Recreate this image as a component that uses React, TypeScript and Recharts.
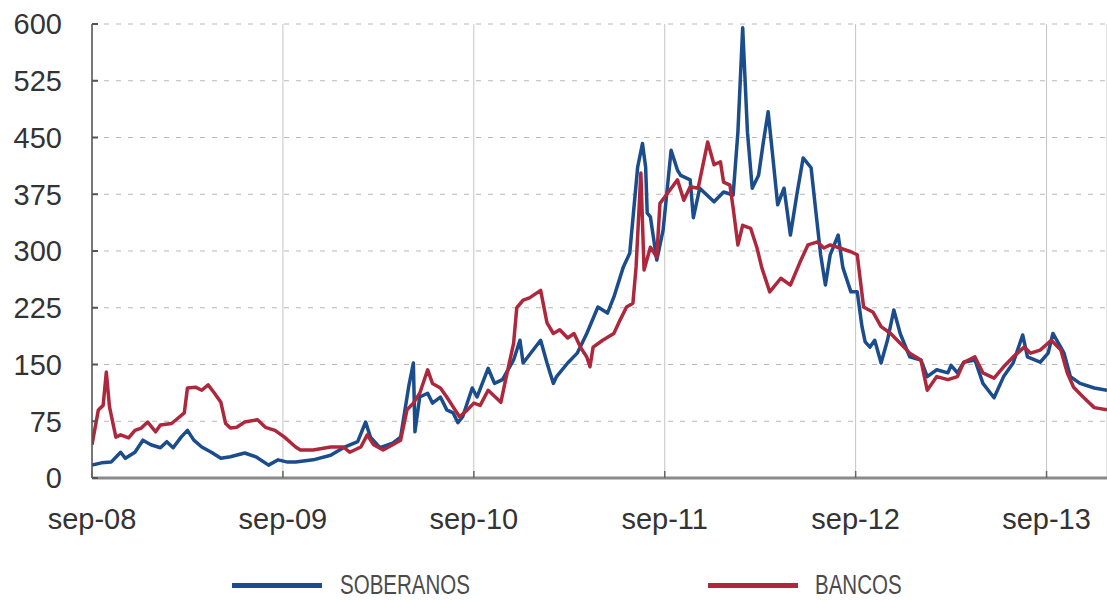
import { LineChart, Line, XAxis, YAxis, CartesianGrid } from "recharts";

// months counted from sep-08
const tickMonths = [0, 12, 24, 36, 48, 60];
const tickLabels = ["sep-08", "sep-09", "sep-10", "sep-11", "sep-12", "sep-13"];
const yTicks = [0, 75, 150, 225, 300, 375, 450, 525, 600];

const sovMonths = [
  0.0, 0.6, 1.2, 1.8, 2.1, 2.7, 3.2, 3.7, 4.3, 4.7, 5.1, 5.6, 6.0, 6.4, 6.9, 7.5, 8.1, 8.7, 9.6, 10.3,
  11.1, 11.7, 12.3, 12.8, 13.9, 15.0, 15.8, 16.7, 17.2, 17.5, 18.1, 18.9, 19.4, 19.9, 20.2, 20.3, 20.6,
  21.1, 21.4, 21.9, 22.3, 22.7, 23.0, 23.3, 23.9, 24.2, 24.9, 25.3, 25.8, 26.5, 26.9, 27.1, 28.2, 28.6,
  29.0, 29.2, 29.9, 30.5, 31.1, 31.8, 32.4, 32.8, 33.4, 33.8, 34.3, 34.6, 34.8, 34.9, 35.1, 35.5, 35.9,
  36.4, 36.8, 37.0, 37.6, 37.8, 38.2, 39.1, 39.7, 40.3, 40.6, 40.9, 41.2, 41.5, 41.9, 42.2, 42.5, 42.8,
  43.1, 43.5, 43.9, 44.3, 44.7, 45.2, 45.5, 45.8, 46.1, 46.4, 46.9, 47.2, 47.7, 48.1, 48.4, 48.6, 48.9,
  49.2, 49.6, 50.0, 50.4, 50.8, 51.4, 52.1, 52.5, 53.1, 53.8, 54.0, 54.4, 54.8, 55.5, 56.0, 56.7, 57.3,
  57.9, 58.5, 58.8, 59.6, 60.1, 60.4, 61.1, 61.5, 62.1, 63.0, 63.8,
];
const sovValues = [
  17, 20, 21, 34, 26, 34, 50, 44, 40, 48, 40, 54, 63, 50, 41, 34, 26, 28, 33, 28,
  17, 24, 21, 21, 24, 30, 40, 48, 74, 54, 40, 46, 54, 120, 152, 61, 107,
  112, 99, 107, 90, 86, 73, 81, 119, 107, 145, 125, 130, 156, 182, 152, 182, 152,
  125, 134, 152, 165, 191, 226, 218, 239, 279, 297, 411, 442, 411, 350, 345, 288, 328,
  433, 407, 400, 394, 344, 383, 365, 378, 374, 457, 595, 457, 383, 400, 444, 484, 423,
  361, 383, 321, 374, 423, 410, 352, 295, 255, 295, 321, 278, 246, 246, 200, 180, 173,
  182, 152, 182, 222, 191, 160, 156, 134, 143, 139, 149, 139, 153, 156, 125, 106, 134,
  152, 189, 160, 153, 165, 191, 165, 134, 125, 119, 116,
];

const bankMonths = [
  0.0, 0.4, 0.7, 0.9, 1.1, 1.5, 1.8, 2.3, 2.7, 3.1, 3.5, 4.0, 4.3, 5.0, 5.4, 5.8, 6.0, 6.5, 6.9, 7.3,
  7.7, 8.1, 8.4, 8.7, 9.1, 9.6, 10.4, 10.9, 11.5, 12.1, 12.8, 13.1, 13.9, 15.0, 15.8, 16.2, 16.9, 17.3,
  17.7, 18.3, 18.9, 19.4, 19.8, 20.2, 20.6, 21.1, 21.4, 21.9, 22.3, 22.7, 23.1, 23.6, 24.0, 24.4, 24.9,
  25.7, 26.0, 26.5, 26.7, 27.1, 27.5, 28.2, 28.6, 29.0, 29.4, 29.9, 30.3, 30.7, 31.1, 31.3, 31.5, 32.1,
  32.8, 33.2, 33.6, 34.0, 34.2, 34.5, 34.7, 35.1, 35.5, 35.7, 36.2, 36.8, 37.2, 37.6, 38.1, 38.7, 39.1,
  39.5, 39.7, 40.1, 40.3, 40.6, 40.9, 41.4, 41.8, 42.1, 42.6, 43.3, 43.9, 44.5, 45.0, 45.6, 46.0, 46.4,
  47.0, 47.7, 48.1, 48.5, 49.1, 49.6, 50.2, 50.8, 51.4, 52.1, 52.5, 53.1, 53.8, 54.4, 54.8, 55.5, 56.0,
  56.7, 57.3, 57.9, 58.6, 59.0, 59.6, 60.3, 60.9, 61.3, 61.7, 62.3, 63.0, 63.8,
];
const bankValues = [
  44, 90, 96, 140, 94, 54, 57, 53, 63, 66, 74, 61, 70, 72, 79, 86, 119, 120, 116, 123,
  112, 100, 72, 66, 67, 74, 77, 67, 63, 54, 41, 37, 37, 41, 41, 34, 41, 57,
  44, 37, 44, 50, 90, 99, 112, 143, 125, 119, 107, 94, 81, 90, 99, 96, 116,
  100, 130, 178, 225, 235, 238, 248, 205, 191, 196, 185, 191, 173, 160, 147, 173, 182,
  191, 209, 226, 231, 279, 403, 275, 305, 292, 363, 377, 394, 367, 385, 383, 444, 414,
  418, 391, 387, 357, 308, 334, 330, 304, 278, 246, 264, 255, 285, 308, 312, 304, 308,
  304, 299, 295, 226, 219, 200, 191, 178, 165, 156, 116, 134, 130, 134, 153, 160, 139,
  132, 147, 160, 173, 165, 169, 182, 169, 139, 120, 107, 93, 90,
];

const soberanosData = sovMonths.map((m, i) => ({ m, v: sovValues[i] }));
const bancosData = bankMonths.map((m, i) => ({ m, v: bankValues[i] }));

const BLUE = "#1b4c8c";
const RED = "#ae283d";
const FONT = '"Liberation Sans", Arial, sans-serif';

function YTick(props: any) {
  const { x, y, payload } = props;
  return (
    <g>
      <line x1={x + 30} x2={x + 36} y1={y} y2={y} stroke="#555" strokeWidth={2} />
      <text x={x} y={y} dy="0.36em" textAnchor="end" fill="#333" fontSize={29} fontFamily={FONT}>
        {payload.value}
      </text>
    </g>
  );
}

function XTick(props: any) {
  const { x, y, payload } = props;
  const idx = tickMonths.indexOf(payload.value);
  return (
    <g>
      <line x1={x} x2={x} y1={y - 30} y2={y - 37} stroke="#666" strokeWidth={1.5} />
      <text x={x} y={y} dy="0.72em" textAnchor="middle" fill="#333" fontSize={29} fontFamily={FONT}>
        {tickLabels[idx]}
      </text>
    </g>
  );
}

export default function App() {
  return (
    <div style={{ position: "absolute", left: 0, top: 0, width: 1107, height: 601, background: "#fff" }}>
      <LineChart width={1107} height={601} margin={{ top: 24, right: 0, bottom: 0, left: 0 }}>
        <CartesianGrid vertical={false} stroke="#b8b8b8" strokeDasharray="5 7" />
        <CartesianGrid horizontal={false} stroke="#c4c4c4" />
        <XAxis
          type="number"
          dataKey="m"
          domain={[0, 63.8]}
          ticks={tickMonths}
          interval={0}
          height={123}
          tickSize={0}
          tickMargin={30}
          tickLine={false}
          tick={<XTick />}
          axisLine={{ stroke: "#8a8a8a", strokeWidth: 3 }}
          allowDataOverflow
        />
        <YAxis
          type="number"
          domain={[0, 600]}
          ticks={yTicks}
          interval={0}
          width={92}
          tickSize={0}
          tickMargin={30}
          tickLine={false}
          tick={<YTick />}
          axisLine={{ stroke: "#555", strokeWidth: 1.5 }}
        />
        <Line
          data={soberanosData}
          dataKey="v"
          type="linear"
          stroke={BLUE}
          strokeWidth={3.5}
          strokeLinejoin="round"
          dot={false}
          isAnimationActive={false}
        />
        <Line
          data={bancosData}
          dataKey="v"
          type="linear"
          stroke={RED}
          strokeWidth={3.5}
          strokeLinejoin="round"
          dot={false}
          isAnimationActive={false}
        />
      </LineChart>
      <div style={{ position: "absolute", left: 232, top: 583, width: 90, height: 5, background: BLUE }} />
      <div
        style={{
          position: "absolute",
          left: 340,
          top: 572,
          fontSize: 27,
          lineHeight: "27px",
          fontFamily: FONT,
          color: "#4a4a4a",
          transform: "scaleX(0.76)",
          transformOrigin: "left center",
          whiteSpace: "nowrap",
        }}
      >
        SOBERANOS
      </div>
      <div style={{ position: "absolute", left: 708, top: 583, width: 90, height: 5, background: RED }} />
      <div
        style={{
          position: "absolute",
          left: 815,
          top: 572,
          fontSize: 27,
          lineHeight: "27px",
          fontFamily: FONT,
          color: "#4a4a4a",
          transform: "scaleX(0.76)",
          transformOrigin: "left center",
          whiteSpace: "nowrap",
        }}
      >
        BANCOS
      </div>
    </div>
  );
}
